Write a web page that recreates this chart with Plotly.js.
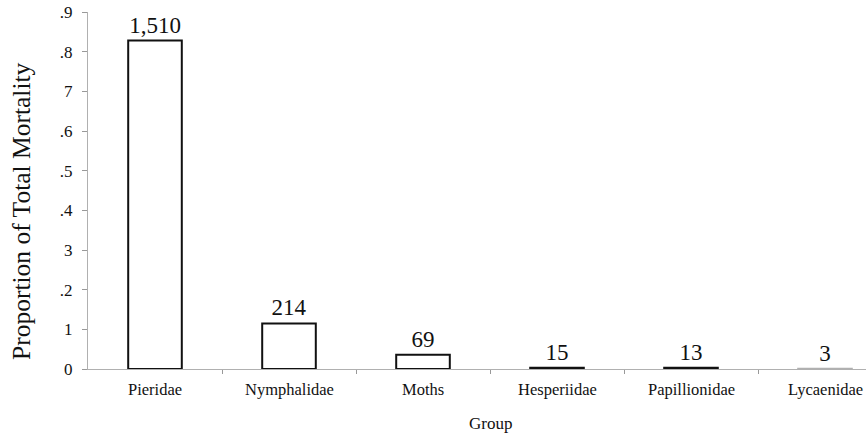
<!DOCTYPE html>
<html>
<head>
<meta charset="utf-8">
<script src="https://cdn.plot.ly/plotly-3.0.1.min.js"></script>
<style>html,body{margin:0;padding:0;background:#fff;}#chart{width:866px;height:435px;}</style>
</head>
<body>
<div id="chart"></div>
<script>
const groups = ["Pieridae", "Nymphalidae", "Moths", "Hesperiidae", "Papillionidae", "Lycaenidae"];
const proportions = [0.828, 0.115, 0.036, 0.003, 0.003, 0.0008];
const counts = ["1,510", "214", "69", "15", "13", "3"];
const yTickVals = [0, 0.1, 0.2, 0.3, 0.4, 0.5, 0.6, 0.7, 0.8, 0.9];
const yTickText = ["0", "1", ".2", "3", ".4", ".5", ".6", "7", ".8", ".9"];
const xTitle = "Group";
const yTitle = "Proportion of Total Mortality";

const serif = "Liberation Serif";

Plotly.newPlot("chart", [{
  type: "bar",
  x: groups,
  y: proportions,
  width: 0.4,
  text: counts,
  textposition: "outside",
  cliponaxis: false,
  textfont: {family: serif, size: 23, color: "#111"},
  marker: {color: "#ffffff", line: {color: ["#111", "#111", "#111", "#111", "#111", "#b0b0b0"], width: 2}},
  hoverinfo: "none"
}], {
  width: 866, height: 435,
  margin: {l: 88, r: 0, t: 12, b: 66},
  paper_bgcolor: "#fff", plot_bgcolor: "#fff",
  showlegend: false,
  font: {family: serif, color: "#111"},
  xaxis: {
    range: [-0.5, 5.306],
    showgrid: false, zeroline: false,
    showline: true, linecolor: "#b0b0b0", linewidth: 1,
    ticks: "outside", ticklen: 4, tickcolor: "#999",
    tickmode: "array", tickvals: [0.5, 1.5, 2.5, 3.5, 4.5], ticktext: ["", "", "", "", ""],
    tickfont: {family: serif, size: 14, color: "#111"}
  },
  yaxis: {
    range: [0, 0.9],
    showgrid: false, zeroline: false,
    showline: true, linecolor: "#b0b0b0", linewidth: 1,
    ticks: "outside", ticklen: 5, tickcolor: "#999",
    tickmode: "array", tickvals: yTickVals, ticktext: yTickText,
    tickfont: {family: serif, size: 17, color: "#111"},
    ticklabelstandoff: 6
  },
  annotations: groups.map((g, i) => ({
    x: i, y: 0, xref: "x", yref: "y", yanchor: "top", yshift: -9,
    text: g, showarrow: false,
    font: {family: serif, size: 16.5, color: "#111"}
  })).concat([{
    x: 2.5, y: 0, xref: "x", yref: "y", yanchor: "top", yshift: -43,
    text: xTitle, showarrow: false,
    font: {family: serif, size: 17, color: "#111"}
  }, {
    x: 0, xref: "paper", xshift: -66, xanchor: "center",
    y: 0.4706, yref: "paper", yanchor: "middle", yshift: -10,
    text: yTitle, textangle: -90, showarrow: false,
    font: {family: serif, size: 25.5, color: "#111"}
  }])
}, {displayModeBar: false, staticPlot: true});
</script>
</body>
</html>
